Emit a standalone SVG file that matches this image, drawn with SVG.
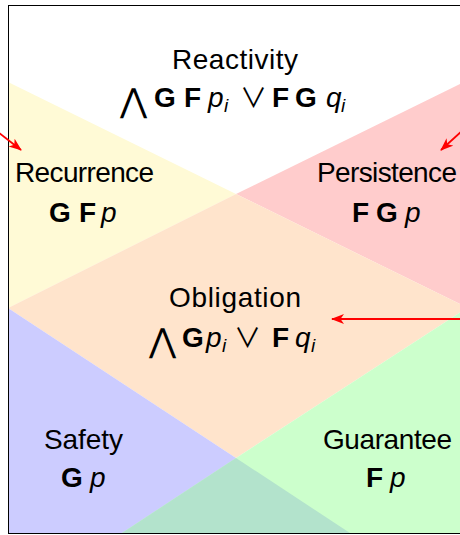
<svg xmlns="http://www.w3.org/2000/svg" width="460" height="535" viewBox="0 0 460 535">
<defs>
<style>
.t{font-family:"Liberation Sans",Arial,sans-serif;font-size:28px;fill:#000}
.b{font-family:"Liberation Sans",Arial,sans-serif;font-size:28px;font-weight:bold;fill:#000}
.it{font-family:"Liberation Sans",Arial,sans-serif;font-size:28px;font-style:italic;fill:#000}
.sub{font-family:"Liberation Sans",Arial,sans-serif;font-size:19px;font-style:italic;fill:#000}
.op{font-family:"Noto Sans CJK JP","DejaVu Sans",sans-serif;font-size:27px;fill:#000}
.big{font-family:"DejaVu Sans",sans-serif;font-size:33px;fill:#000}
.arrow{stroke:#ff0000;stroke-width:1.8;fill:none;marker-end:url(#head)}
</style>
<marker id="head" markerUnits="userSpaceOnUse" markerWidth="13" markerHeight="11" viewBox="0 0 13 11" refX="12" refY="5.5" orient="auto">
<path d="M0,0.5 L13,5.5 L0,10.5 L3.5,5.5 z" fill="#ff0000"/>
</marker>
</defs>
<rect x="0" y="0" width="460" height="535" fill="#fff"/>
<g id="regions">
<polygon points="8,82 236,194 8,308" fill="#fffad6"/>
<polygon points="464,82 236,194 464,306" fill="#ffcccc"/>
<polygon points="8,308 236,194 464,306 464,310 236,458" fill="#ffe4cc"/>
<polygon points="8,308 236,458 350,533 8,533" fill="#ccccff"/>
<polygon points="464,310 236,458 122,533 464,533" fill="#ccffcc"/>
<polygon points="236,458 122,533 350,533" fill="#b3e3cc"/>
</g>
<rect x="8.5" y="5.5" width="470" height="528" fill="none" stroke="#000" stroke-width="1"/>
<g id="connectors">
<line class="arrow" x1="-2" y1="132" x2="21" y2="150"/>
<line class="arrow" x1="463" y1="130" x2="441" y2="150"/>
<line class="arrow" x1="462" y1="319" x2="332" y2="319"/>
</g>
<g id="reactivity">
<text class="t" x="172" y="69" textLength="126">Reactivity</text>
<text y="107"><tspan class="big" x="120" y="112">⋀</tspan><tspan class="b" x="154" y="107">G</tspan><tspan class="b" x="184">F</tspan><tspan class="it" x="208">p</tspan><tspan class="sub" x="224" y="112">i</tspan><tspan class="op" x="240" y="108">∨</tspan><tspan class="b" x="272" y="107">F</tspan><tspan class="b" x="295">G</tspan><tspan class="it" x="326">q</tspan><tspan class="sub" x="341" y="112">i</tspan></text>
</g>
<g id="recurrence">
<text class="t" x="15" y="182" textLength="139">Recurrence</text>
<text y="222"><tspan class="b" x="49">G</tspan><tspan class="b" x="79">F</tspan><tspan class="it" x="101">p</tspan></text>
</g>
<g id="persistence">
<text class="t" x="317" y="182" textLength="140">Persistence</text>
<text y="222"><tspan class="b" x="352">F</tspan><tspan class="b" x="376">G</tspan><tspan class="it" x="405">p</tspan></text>
</g>
<g id="obligation">
<text class="t" x="169" y="307" textLength="132">Obligation</text>
<text y="347"><tspan class="big" x="149" y="352">⋀</tspan><tspan class="b" x="182" y="347">G</tspan><tspan class="it" x="206">p</tspan><tspan class="sub" x="222" y="352">i</tspan><tspan class="op" x="234" y="348">∨</tspan><tspan class="b" x="272" y="347">F</tspan><tspan class="it" x="295">q</tspan><tspan class="sub" x="311" y="352">i</tspan></text>
</g>
<g id="safety">
<text class="t" x="44" y="449" textLength="79">Safety</text>
<text y="487"><tspan class="b" x="61">G</tspan><tspan class="it" x="90">p</tspan></text>
</g>
<g id="guarantee">
<text class="t" x="323" y="449" textLength="129">Guarantee</text>
<text y="487"><tspan class="b" x="366">F</tspan><tspan class="it" x="390">p</tspan></text>
</g>
</svg>
